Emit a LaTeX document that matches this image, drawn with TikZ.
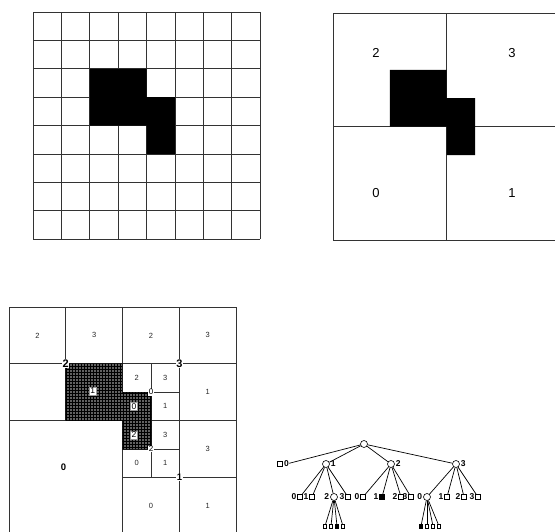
\documentclass[tikz,border=0pt]{standalone}
\usepackage{fontspec}
\setmainfont{Liberation Sans}
\usetikzlibrary{positioning, patterns}

\tikzset{
    cell line/.style={draw=black!80, line width=0.9pt},
    black cell/.style={fill=black},
    shaded region/.style={fill=black!62, draw=black!90, line width=0.9pt},
    quad label/.style={font=\fontsize{13}{13}\selectfont, inner sep=0pt},
    cell label/.style={font=\fontsize{7.5}{7.5}\selectfont, text=black!85, inner sep=0pt},
    big label/.style={font=\bfseries\fontsize{9.5}{9.5}\selectfont, inner sep=0pt},
    centre label/.style={font=\bfseries\fontsize{11}{11}\selectfont, fill=white, inner sep=0.6pt},
    small centre/.style={font=\fontsize{8}{8}\selectfont, fill=white, inner sep=0.6pt},
    boxed label/.style={font=\fontsize{8.5}{8.5}\selectfont, fill=white, draw=black!40, inner sep=1pt},
    inner node/.style={circle, draw, line width=0.6pt, minimum size=7pt, inner sep=0pt},
    leaf node/.style={rectangle, draw, line width=0.6pt, minimum size=4.5pt, inner sep=0pt},
    full leaf/.style={leaf node, fill=black},
    tiny leaf/.style={rectangle, draw, line width=0.5pt, minimum width=3pt, minimum height=4pt, inner sep=0pt},
    tiny full/.style={tiny leaf, fill=black},
    digit/.style={font=\bfseries\fontsize{8.5}{8.5}\selectfont, inner sep=0.3pt},
    edge/.style={line width=0.7pt}
}

\begin{document}
\begin{tikzpicture}[x=1pt, y=-1pt]
\useasboundingbox (0,0) rectangle (555,531);

% raster image, 8 x 8 cells
\begin{scope}[shift={(33,12)}, x=28.4pt, y=-28.4pt]
    \foreach \i in {0,...,8} {
        \draw[cell line] (\i,0) -- (\i,8);
        \draw[cell line] (0,\i) -- (8,\i);
    }
    \fill[black cell] (2,2) rectangle (4,4) (4,3) rectangle (5,5);
\end{scope}

% first split into quadrants
\begin{scope}[shift={(333,13)}, x=28.4pt, y=-28.4pt]
    \draw[cell line] (0,0) rectangle (8,8) (4,0) -- (4,8) (0,4) -- (8,4);
    \fill[black cell] (2,2) rectangle (4,4) (4,3) rectangle (5,5);
    \node[quad label] (q2) at (1.51,1.41) {2};
    \node[quad label] (q3) at (6.3,1.41) {3};
    \node[quad label] (q0) at (1.51,6.34) {0};
    \node[quad label] (q1) at (6.3,6.34) {1};
\end{scope}

% full decomposition
\begin{scope}[shift={(9,307)}, x=28.4pt, y=-28.4pt]
    \draw[cell line] (0,0) rectangle (8,8);
    \draw[cell line] (4,0) -- (4,8) (0,4) -- (8,4) (6,0) -- (6,8) (0,2) -- (8,2)
        (2,0) -- (2,4) (4,6) -- (8,6) (5,2) -- (5,6) (4,3) -- (6,3) (4,5) -- (6,5);
    \filldraw[shaded region] (2,2) -- (4,2) -- (4,3) -- (5,3) -- (5,5) -- (4,5) -- (4,4) -- (2,4) -- cycle;
    \fill[pattern=grid, pattern color=black] (2,2) -- (4,2) -- (4,3) -- (5,3) -- (5,5) -- (4,5) -- (4,4) -- (2,4) -- cycle;
    % leaf labels
    \node[cell label] (a22) at (1,1) {2};
    \node[cell label] (a23) at (3,1) {3};
    \node[cell label] (a32) at (5,1) {2};
    \node[cell label] (a33) at (7,1) {3};
    \node[cell label] (a31) at (7,3) {1};
    \node[cell label] (a302) at (4.5,2.5) {2};
    \node[cell label] (a303) at (5.5,2.5) {3};
    \node[cell label] (a301) at (5.5,3.5) {1};
    \node[cell label] (a123) at (5.5,4.5) {3};
    \node[cell label] (a120) at (4.5,5.5) {0};
    \node[cell label] (a121) at (5.5,5.5) {1};
    \node[cell label] (a13) at (7,5) {3};
    \node[cell label] (a10) at (5,7) {0};
    \node[cell label] (a11) at (7,7) {1};
    \node[big label] (a0) at (1.92,5.65) {0};
    \node[boxed label] (a21) at (2.95,2.95) {1};
    \node[boxed label] (a300) at (4.4,3.5) {0};
    \node[boxed label] (a122) at (4.4,4.5) {2};
    % centres of split blocks
    \node[centre label] (c2) at (2,2) {2};
    \node[centre label] (c3) at (6,2) {3};
    \node[centre label, font=\bfseries\fontsize{9.5}{9.5}\selectfont] (c1) at (6,6) {1};
    \node[small centre] (c30) at (5,3) {0};
    \node[small centre] (c12) at (5,5) {2};
\end{scope}

% quadtree
\node[inner node] (root) at (364,444) {};
\node[leaf node] (l0) at (280,464) {};
\node[digit, right=1pt of l0] (t0) {0};
\node[inner node] (n1) at (326,464) {};
\node[digit, right=0.5pt of n1] (t1) {1};
\node[inner node] (n2) at (391,464) {};
\node[digit, right=0.5pt of n2] (t2) {2};
\node[inner node] (n3) at (456,464) {};
\node[digit, right=0.5pt of n3] (t3) {3};
\draw[edge] (root) -- (t0);
\draw[edge] (root) -- (n1);
\draw[edge] (root) -- (n2);
\draw[edge] (root) -- (n3);

% children of 1
\node[leaf node] (n10) at (300,497) {};
\node[leaf node] (n11) at (312,497) {};
\node[inner node] (n12) at (334,497) {};
\node[leaf node] (n13) at (348,497) {};
% children of 2
\node[leaf node] (n20) at (363,497) {};
\node[full leaf] (n21) at (382,497) {};
\node[leaf node] (n22) at (401,497) {};
\node[leaf node] (n23) at (411,497) {};
% children of 3
\node[inner node] (n30) at (427,497) {};
\node[leaf node] (n31) at (447,497) {};
\node[leaf node] (n32) at (464,497) {};
\node[leaf node] (n33) at (478,497) {};
\foreach \p in {1,2,3} {
    \foreach \k in {0,1,2,3} {
        \node[digit, left=0.6pt of n\p\k] (t\p\k) {\k};
        \draw[edge] (n\p) -- (n\p\k);
    }
}

% grandchildren
\node[tiny leaf] (n120) at (325,526) {};
\node[tiny leaf] (n121) at (331,526) {};
\node[tiny full] (n122) at (337,526) {};
\node[tiny leaf] (n123) at (343,526) {};
\node[tiny full] (n300) at (421,526) {};
\node[tiny leaf] (n301) at (427,526) {};
\node[tiny leaf] (n302) at (433,526) {};
\node[tiny leaf] (n303) at (439,526) {};
\foreach \k in {0,1,2,3} {
    \draw[edge] (n12) -- (n12\k);
    \draw[edge] (n30) -- (n30\k);
}
\end{tikzpicture}
\end{document}
